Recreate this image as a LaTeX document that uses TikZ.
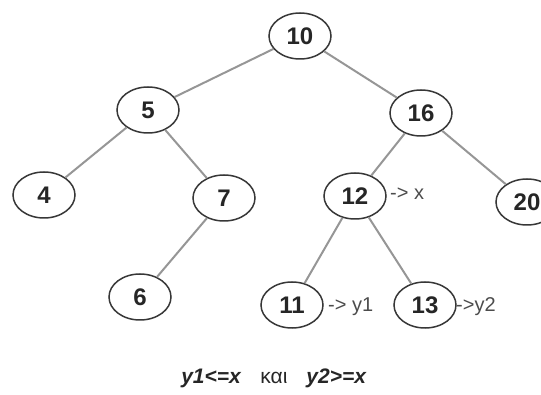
\documentclass[tikz,border=0pt]{standalone}
\usepackage{fontspec}
\setmainfont{Liberation Sans}
\usetikzlibrary{shapes.geometric}
\definecolor{edgegray}{RGB}{150,150,150}
\definecolor{rimgray}{RGB}{55,55,55}
\begin{document}
\begin{tikzpicture}[x=1pt,y=-1pt,
  keynode/.style={ellipse,draw=rimgray,line width=1.5pt,minimum width=62pt,minimum height=46pt,inner sep=0pt,font=\fontsize{24}{24}\selectfont\bfseries,text=black!85},
  treeedge/.style={draw=edgegray,line width=2pt},
  tag/.style={font=\fontsize{20}{20}\selectfont,text=black!70,inner sep=0pt,anchor=west}]
\useasboundingbox (0,0) rectangle (541,395);
\clip (0,0) rectangle (541,395);
\node[keynode] (n10) at (300,36) {10};
\node[keynode] (n5) at (148,110) {5};
\node[keynode] (n16) at (421,113) {16};
\node[keynode] (n4) at (44,195) {4};
\node[keynode] (n7) at (224,198) {7};
\node[keynode] (n12) at (355,196) {12};
\node[keynode] (n20) at (527,202) {20};
\node[keynode] (n6) at (140,297) {6};
\node[keynode] (n11) at (292,305) {11};
\node[keynode] (n13) at (425,305) {13};
\node[tag] (tx) at (390,194) {-> x};
\node[tag] (ty1) at (328,307) {-> y1};
\node[tag] (ty2) at (456,307) {->y2};
\node[inner sep=0pt,font=\fontsize{21}{21}\selectfont,text=black!85] (cond) at (274,378) {\textbf{\textit{y1<=x}}\hspace{0.9em}και\hspace{0.9em}\textbf{\textit{y2>=x}}};
\draw[treeedge] (n10) -- (n5);
\draw[treeedge] (n10) -- (n16);
\draw[treeedge] (n5) -- (n4);
\draw[treeedge] (n5) -- (n7);
\draw[treeedge] (n7) -- (n6);
\draw[treeedge] (n16) -- (n12);
\draw[treeedge] (n16) -- (n20);
\draw[treeedge] (n12) -- (n11);
\draw[treeedge] (n12) -- (n13);
\end{tikzpicture}
\end{document}
